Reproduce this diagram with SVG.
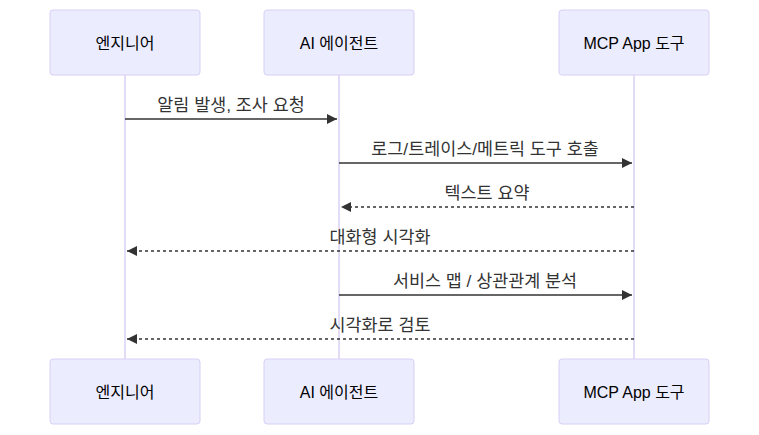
<svg xmlns="http://www.w3.org/2000/svg" width="759" height="435" viewBox="0 0 759 435">
<style>
.actor{fill:#ECECFF;stroke:#D8D0F4;stroke-width:1}
.atext{font-family:"Liberation Sans","Noto Sans CJK KR",sans-serif;font-size:16px;fill:#000;text-anchor:middle;dominant-baseline:central}
.life{stroke:#D8D0F4;stroke-width:1.5}
.msg{stroke:#333;stroke-width:1.5;fill:none}
.dot{stroke-dasharray:3,3}
.mtext{font-family:"Liberation Sans","Noto Sans CJK KR",sans-serif;font-size:17.4px;fill:#333;text-anchor:middle}
</style>
<defs>
<marker id="ah" viewBox="0 0 10 10" refX="10" refY="5" markerWidth="10" markerHeight="10" markerUnits="userSpaceOnUse" orient="auto">
<path d="M0,0 L10,5 L0,10 z" fill="#333"/>
</marker>
</defs>
<g id="lifelines">
<line class="life" x1="125" y1="75" x2="125" y2="359"/>
<line class="life" x1="339" y1="75" x2="339" y2="359"/>
<line class="life" x1="634" y1="75" x2="634" y2="359"/>
</g>
<g id="actor-engineer-top"><rect class="actor" x="50" y="10" width="150" height="65" rx="3"/><text class="atext" x="125" y="43">엔지니어</text></g>
<g id="actor-agent-top"><rect class="actor" x="264" y="10" width="150" height="65" rx="3"/><text class="atext" x="339" y="43">AI 에이전트</text></g>
<g id="actor-mcp-top"><rect class="actor" x="559" y="10" width="150" height="65" rx="3"/><text class="atext" x="634" y="43">MCP App 도구</text></g>
<g id="actor-engineer-bottom"><rect class="actor" x="50" y="359" width="150" height="65" rx="3"/><text class="atext" x="125" y="392">엔지니어</text></g>
<g id="actor-agent-bottom"><rect class="actor" x="264" y="359" width="150" height="65" rx="3"/><text class="atext" x="339" y="392">AI 에이전트</text></g>
<g id="actor-mcp-bottom"><rect class="actor" x="559" y="359" width="150" height="65" rx="3"/><text class="atext" x="634" y="392">MCP App 도구</text></g>
<g id="connectors">
<line class="msg" x1="125" y1="119" x2="337" y2="119" marker-end="url(#ah)"/>
<text class="mtext" x="231" y="111">알림 발생, 조사 요청</text>
<line class="msg" x1="339" y1="163" x2="632" y2="163" marker-end="url(#ah)"/>
<text class="mtext" x="485" y="155">로그/트레이스/메트릭 도구 호출</text>
<line class="msg dot" x1="634" y1="207" x2="341" y2="207" marker-end="url(#ah)"/>
<text class="mtext" x="487" y="199">텍스트 요약</text>
<line class="msg dot" x1="634" y1="251" x2="127" y2="251" marker-end="url(#ah)"/>
<text class="mtext" x="380" y="243">대화형 시각화</text>
<line class="msg" x1="339" y1="295" x2="632" y2="295" marker-end="url(#ah)"/>
<text class="mtext" x="485" y="287">서비스 맵 / 상관관계 분석</text>
<line class="msg dot" x1="634" y1="339" x2="127" y2="339" marker-end="url(#ah)"/>
<text class="mtext" x="380" y="331">시각화로 검토</text>
</g>
</svg>
